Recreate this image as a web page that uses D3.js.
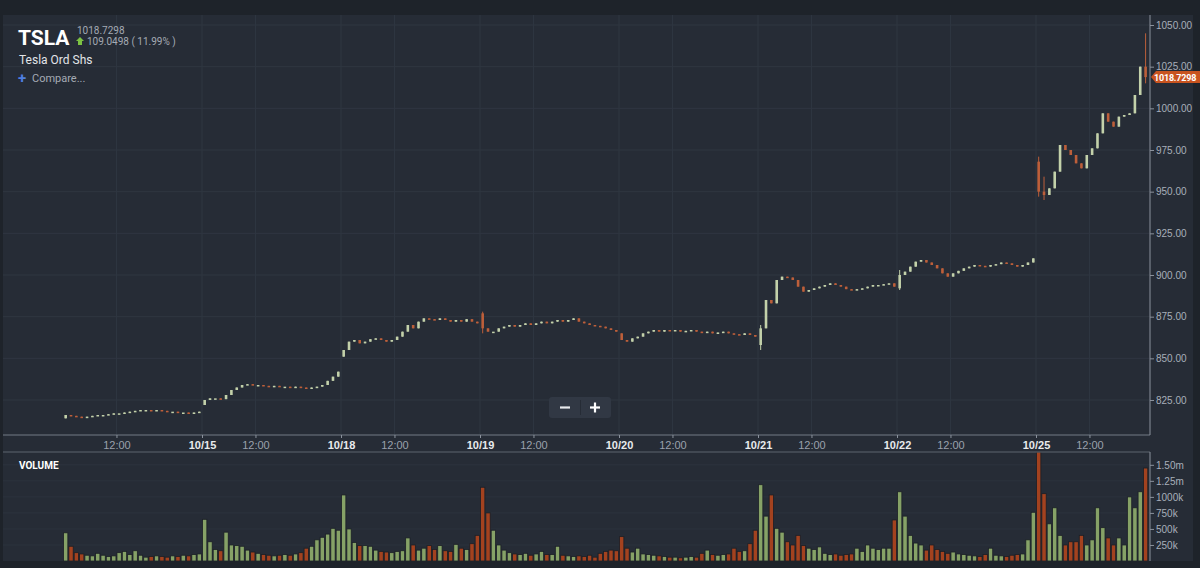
<!DOCTYPE html>
<html>
<head>
<meta charset="utf-8">
<script src="https://cdn.jsdelivr.net/npm/d3@7"></script>
<style>
  body { margin: 0; background: #1e232a; }
  svg { display: block; font-family: Roboto, "Noto Sans", sans-serif; }
</style>
</head>
<body>
<div id="chart"></div>
<script>
// trading days shown (15 minute bars, 9:30 - 16:00)
var days = ["10/14", "10/15", "10/18", "10/19", "10/20", "10/21", "10/22", "10/25"];
var dayOpens = [814, 822, 851, 877, 865, 858, 892, 968];

// closes per bar
var close1014 = [816, 815.5, 815, 814.5, 815, 815.5, 816, 816, 816.5, 817, 817, 817.5, 818, 818.5, 819, 819, 818.5, 819, 818.5, 818, 818, 817.5, 817.5, 817, 817.5, 818];
var close1015 = [825, 826, 826, 825.5, 828, 831, 832.5, 834, 834.5, 834, 834, 833.5, 833, 833.5, 833, 833, 832.5, 833, 832.5, 832, 832.5, 833, 834, 836.5, 839, 842];
var close1018 = [855, 860, 861, 859, 860, 861.5, 862, 861, 860, 861, 863, 866, 870, 868, 872, 874, 873.5, 873, 874, 873, 872, 873, 872, 873.5, 872, 871];
var close1019 = [868, 866, 866, 868, 869, 870, 869, 870, 871, 870, 871, 872, 871, 872, 873, 872, 873, 874, 872, 871, 870, 869.5, 869, 868, 867, 866];
var close1020 = [861, 860, 862, 863, 865, 866, 867, 866, 867, 866.5, 867, 866, 866.5, 867, 866, 865.5, 866, 865, 865.5, 866, 865, 864.5, 864, 865, 864, 863];
var close1021 = [868, 885, 883, 897, 899, 898.5, 897, 893, 890, 891, 892, 893, 894, 895, 894, 893, 891.5, 891, 891.5, 892, 893, 894, 894, 894.5, 895, 893];
var close1022 = [900, 902, 905, 908, 909, 907.5, 906, 904, 901, 899, 901, 902.5, 904, 905, 906, 905.5, 905, 906, 906.5, 907.5, 907, 906, 905, 906, 907.5, 910];
var close1025 = [950, 948, 952, 962, 978, 975, 972, 967, 964, 972, 976, 985, 997, 992, 989, 995, 996, 997, 1008, 1025, 1018.73];
var closes = [close1014, close1015, close1018, close1019, close1020, close1021, close1022, close1025];

// volume per bar, in thousands
var vol1014 = [440, 230, 130, 110, 90, 80, 120, 90, 70, 80, 130, 150, 100, 160, 90, 60, 70, 80, 70, 60, 80, 70, 90, 80, 100, 110];
var vol1015 = [650, 300, 180, 160, 450, 250, 240, 230, 170, 140, 120, 100, 90, 80, 90, 100, 90, 110, 130, 200, 230, 330, 370, 420, 510, 480];
var vol1018 = [1030, 500, 290, 240, 240, 230, 170, 150, 140, 130, 150, 160, 360, 250, 170, 200, 240, 180, 240, 160, 150, 260, 200, 180, 270, 400];
var vol1019 = [1150, 750, 480, 250, 170, 130, 110, 100, 120, 90, 110, 150, 100, 100, 230, 90, 80, 70, 80, 70, 90, 60, 120, 150, 170, 160];
var vol1020 = [380, 200, 140, 200, 110, 100, 90, 80, 70, 60, 60, 50, 60, 70, 60, 120, 170, 100, 90, 100, 110, 200, 150, 160, 270, 480];
var vol1021 = [1190, 700, 1030, 510, 450, 300, 250, 400, 240, 200, 180, 220, 120, 100, 110, 90, 100, 110, 200, 150, 250, 200, 180, 200, 200, 640];
var vol1022 = [1080, 700, 400, 280, 250, 170, 250, 180, 150, 120, 140, 110, 100, 90, 80, 70, 100, 200, 90, 80, 70, 90, 100, 110, 330, 760];
var vol1025 = [1700, 1050, 580, 830, 400, 250, 300, 300, 400, 250, 330, 830, 520, 360, 250, 360, 250, 1000, 830, 1080, 1450];
var volumes = [vol1014, vol1015, vol1018, vol1019, vol1020, vol1021, vol1022, vol1025];

// bars whose wicks reach past the body: [day, bar, low, high]
var spikes = [["10/19", 0, 865, 878], ["10/21", 0, 855, 870], ["10/22", 0, 891, 903],
              ["10/25", 0, 947, 971], ["10/25", 1, 945, 959], ["10/25", 20, 1015, 1045]];

var priceTicks = [825, 850, 875, 900, 925, 950, 975, 1000, 1025, 1050];
var volTicks = [250, 500, 750, 1000, 1250, 1500];
var lastPrice = 1018.7298, change = 109.0498, changePct = 11.99;

var barsPerDay = 26, noonBar = 10;

// build the bars
var bars = [];
days.forEach(function(day, d) {
  closes[d].forEach(function(c, k) {
    var o = k == 0 ? dayOpens[d] : closes[d][k - 1];
    var b = {i: d * barsPerDay + k, o: o, c: c, hi: Math.max(o, c), lo: Math.min(o, c), v: volumes[d][k]};
    spikes.forEach(function(s) {
      if (s[0] == day && s[1] == k) { b.lo = Math.min(b.lo, s[2]); b.hi = Math.max(b.hi, s[3]); }
    });
    bars.push(b);
  });
});

var W = 1200, H = 568;
var left = 3, right = 1150, priceTop = 15, priceBottom = 435, volTop = 452, volBottom = 561;

var x = d3.scaleLinear().domain([0, days.length * barsPerDay]).range([63, 63 + 139 * days.length]);
var y = d3.scaleLinear().domain([825, 1050]).range([400, 25]);
var yv = d3.scaleLinear().domain([0, 1700]).range([volBottom, volTop]);
var bw = x(1) - x(0);

var svg = d3.select("#chart").append("svg").attr("width", W).attr("height", H);

svg.append("rect").attr("width", W).attr("height", H).attr("fill", "#1e232a");
svg.append("rect").attr("x", left).attr("y", priceTop).attr("width", 1193 - left).attr("height", volBottom - priceTop)
    .attr("fill", "#262c36");

svg.append("defs").append("clipPath").attr("id", "pclip").append("rect")
    .attr("x", left).attr("y", priceTop).attr("width", right - left).attr("height", priceBottom - priceTop);
svg.select("defs").append("clipPath").attr("id", "vclip").append("rect")
    .attr("x", left).attr("y", volTop).attr("width", right - left).attr("height", volBottom - volTop);

// x tick values: every day start and every noon
var xTicks = [];
days.forEach(function(day, d) {
  if (d > 0) xTicks.push(d * barsPerDay);
  xTicks.push(d * barsPerDay + noonBar);
});

// grid
var grid = svg.append("g");
grid.selectAll(".hg").data(priceTicks).enter().append("line")
    .attr("x1", left).attr("x2", right).attr("y1", function(d) { return y(d); }).attr("y2", function(d) { return y(d); })
    .attr("stroke", "#2f3641");
grid.selectAll(".vg").data(xTicks).enter().append("line")
    .attr("x1", function(d) { return x(d); }).attr("x2", function(d) { return x(d); })
    .attr("y1", priceTop).attr("y2", priceBottom).attr("stroke", "#2f3641");
grid.selectAll(".vh").data(volTicks).enter().append("line")
    .attr("x1", left).attr("x2", right).attr("y1", function(d) { return yv(d); }).attr("y2", function(d) { return yv(d); })
    .attr("stroke", "#2c333e");

// candles
var up = "#c3d1aa", down = "#bd5f3a";
var cg = svg.append("g").attr("clip-path", "url(#pclip)");
cg.selectAll(".wick").data(bars).enter().append("line")
    .attr("x1", function(d) { return x(d.i + 0.5); }).attr("x2", function(d) { return x(d.i + 0.5); })
    .attr("y1", function(d) { return y(d.hi); }).attr("y2", function(d) { return y(d.lo); })
    .attr("stroke", function(d) { return d.c >= d.o ? up : down; }).attr("stroke-width", 1);
cg.selectAll(".body").data(bars).enter().append("rect")
    .attr("x", function(d) { return x(d.i + 0.5) - 1.3; })
    .attr("y", function(d) { return y(Math.max(d.o, d.c)); })
    .attr("width", 2.6)
    .attr("height", function(d) { return Math.max(1.5, Math.abs(y(d.o) - y(d.c))); })
    .attr("fill", function(d) { return d.c >= d.o ? up : down; });

// volume bars
var vg = svg.append("g").attr("clip-path", "url(#vclip)");
vg.selectAll(".vol").data(bars).enter().append("rect")
    .attr("x", function(d) { return x(d.i) + 0.5; })
    .attr("y", function(d) { return yv(d.v); })
    .attr("width", bw - 1)
    .attr("height", function(d) { return volBottom - yv(d.v); })
    .attr("fill", function(d) { return d.c >= d.o ? "#86a267" : "#a3421f"; })
    .attr("stroke", "#1b1f26").attr("stroke-width", 0.8);

// frame lines
svg.append("line").attr("x1", left).attr("x2", right).attr("y1", priceBottom).attr("y2", priceBottom).attr("stroke", "#737a85");
svg.append("line").attr("x1", left).attr("x2", right).attr("y1", volTop).attr("y2", volTop).attr("stroke", "#5d646f");
svg.append("line").attr("x1", right).attr("x2", right).attr("y1", priceTop).attr("y2", priceBottom).attr("stroke", "#8a919c");
svg.append("line").attr("x1", right).attr("x2", right).attr("y1", volTop).attr("y2", volBottom).attr("stroke", "#8a919c");

// price axis
var pa = svg.append("g").attr("transform", "translate(" + right + ",0)")
    .call(d3.axisRight(y).tickValues(priceTicks).tickFormat(d3.format(".2f")).tickSize(4).tickPadding(2));
pa.select(".domain").remove();
pa.selectAll("line").attr("stroke", "#8a919c");
pa.selectAll("text").attr("fill", "#a8afba").style("font-size", "10px");

// volume axis
var vfmt = function(d) { return d >= 1250 ? (d / 1000).toFixed(2) + "m" : d + "k"; };
var va = svg.append("g").attr("transform", "translate(" + right + ",0)")
    .call(d3.axisRight(yv).tickValues(volTicks).tickFormat(vfmt).tickSize(4).tickPadding(2));
va.select(".domain").remove();
va.selectAll("line").attr("stroke", "#8a919c");
va.selectAll("text").attr("fill", "#a8afba").style("font-size", "10px");

// time axis
var ta = svg.append("g").attr("transform", "translate(0," + priceBottom + ")")
    .call(d3.axisBottom(x).tickValues(xTicks).tickSize(3).tickPadding(3)
      .tickFormat(function(d) { return d % barsPerDay == 0 ? days[d / barsPerDay] : "12:00"; }));
ta.select(".domain").remove();
ta.selectAll("line").attr("stroke", "#8a919c");
ta.selectAll("text").style("font-size", "11px")
    .attr("fill", function(d) { return d % barsPerDay == 0 ? "#e8eaed" : "#9aa1ac"; })
    .style("font-weight", function(d) { return d % barsPerDay == 0 ? "bold" : "normal"; });

// last price tag
svg.append("rect").attr("x", 1193).attr("y", 0).attr("width", 7).attr("height", H).attr("fill", "#1e232a");
var ty = y(lastPrice);
var tag = svg.append("g");
tag.append("path")
    .attr("d", "M1151," + ty + " L1156," + (ty - 6) + " L1200," + (ty - 6) + " L1200," + (ty + 6) + " L1156," + (ty + 6) + " Z")
    .attr("fill", "#c8531f");
tag.append("text").attr("x", 1154).attr("y", ty + 3.5).text(lastPrice.toFixed(4))
    .attr("fill", "#fff").style("font-size", "9px").style("font-weight", "bold").style("letter-spacing", "-0.2px");

// header
svg.append("text").attr("x", 18).attr("y", 45).text("TSLA")
    .attr("fill", "#ffffff").style("font-size", "21px").style("font-weight", "bold");
svg.append("text").attr("x", 77).attr("y", 34).text(lastPrice.toFixed(4))
    .attr("fill", "#a4aab4").style("font-size", "10px");
svg.append("path").attr("d", "M80,37 L84,41 L82,41 L82,45 L78,45 L78,41 L76,41 Z").attr("fill", "#7cc242");
svg.append("text").attr("x", 87).attr("y", 45)
    .text(change.toFixed(4) + " ( " + changePct.toFixed(2) + "% )")
    .attr("fill", "#a4aab4").style("font-size", "10px");
svg.append("text").attr("x", 19).attr("y", 64).text("Tesla Ord Shs")
    .attr("fill", "#e2e4e8").style("font-size", "12px");
svg.append("text").attr("x", 18).attr("y", 83).text("+")
    .attr("fill", "#4f7fe0").style("font-size", "15px").style("font-weight", "bold");
svg.append("text").attr("x", 32).attr("y", 82).text("Compare...")
    .attr("fill", "#a4aab4").style("font-size", "11px");

svg.append("text").attr("x", 19).attr("y", 469).text("VOLUME")
    .attr("fill", "#ffffff").style("font-size", "10px").style("font-weight", "bold");

// zoom buttons
var zb = svg.append("g");
zb.append("rect").attr("x", 549).attr("y", 397).attr("width", 62).attr("height", 21).attr("rx", 3).attr("fill", "#313844");
zb.append("line").attr("x1", 580.5).attr("x2", 580.5).attr("y1", 400).attr("y2", 415).attr("stroke", "#262c36");
zb.append("line").attr("x1", 560).attr("x2", 570).attr("y1", 407.5).attr("y2", 407.5).attr("stroke", "#e8eaed").attr("stroke-width", 2.2);
zb.append("line").attr("x1", 590).attr("x2", 600).attr("y1", 407.5).attr("y2", 407.5).attr("stroke", "#ffffff").attr("stroke-width", 2.2);
zb.append("line").attr("x1", 595).attr("x2", 595).attr("y1", 402.5).attr("y2", 412.5).attr("stroke", "#ffffff").attr("stroke-width", 2.2);
</script>
</body>
</html>
